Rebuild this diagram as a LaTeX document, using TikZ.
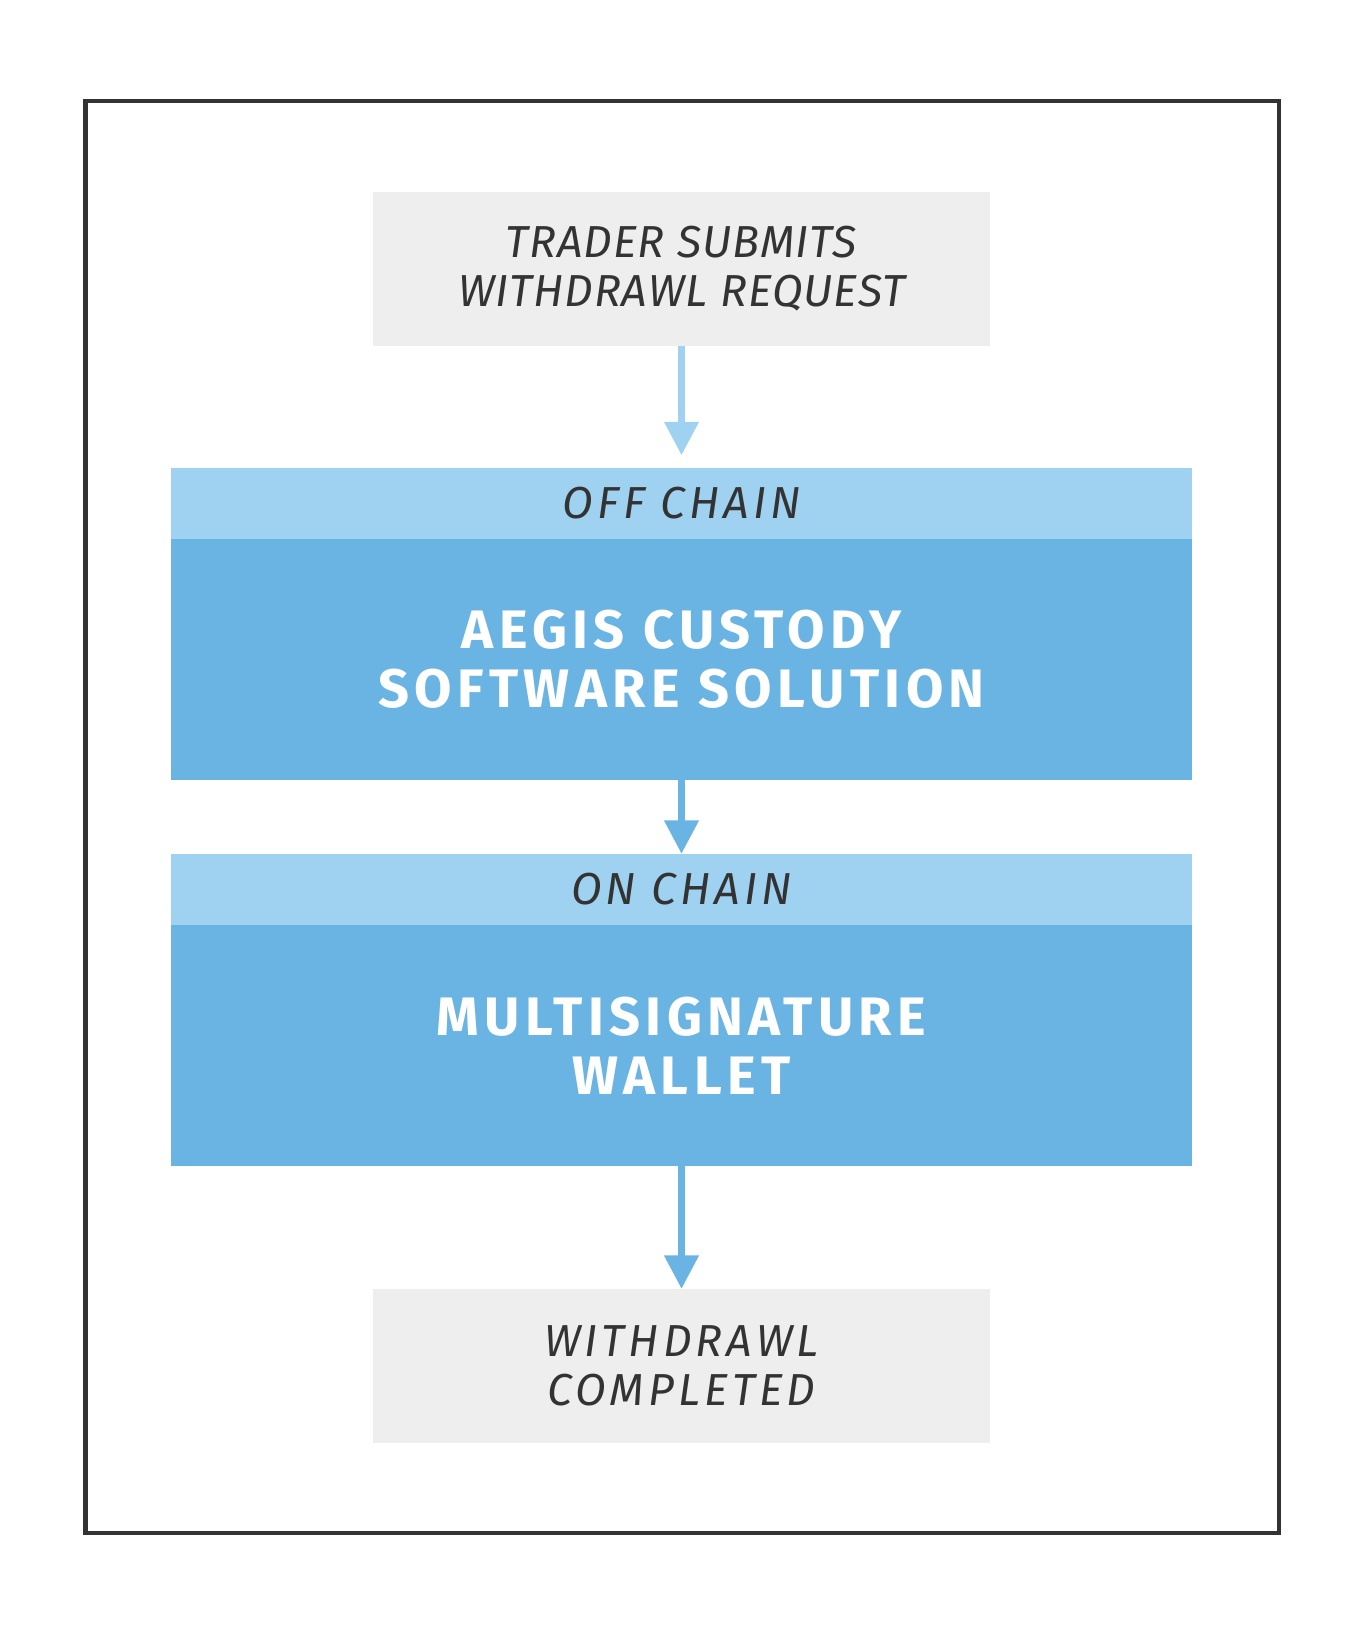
\documentclass[tikz,border=0pt]{standalone}
\usepackage{fontspec}
\usetikzlibrary{positioning,arrows.meta}

\newfontfamily\stepfont[LetterSpace=2]{Fira Sans}
\newfontfamily\spacedfont[LetterSpace=9]{Fira Sans}
\newfontfamily\titlefont[LetterSpace=10]{Fira Sans}

\definecolor{boxgray}{HTML}{EEEEEE}
\definecolor{chainlight}{HTML}{9FD1F1}
\definecolor{chainblue}{HTML}{6AB4E4}
\definecolor{ink}{HTML}{333333}

\begin{document}
\begin{tikzpicture}[x=1pt, y=-1pt, >={Triangle[width=32pt,length=32pt]},
	stepbox/.style={fill=boxgray, minimum width=592pt, minimum height=148pt, inner sep=0pt,
		text=ink, align=center, font=\stepfont\itshape\fontsize{43}{47}\selectfont},
	endbox/.style={stepbox, font=\spacedfont\itshape\fontsize{43}{47}\selectfont},
	chainhead/.style={fill=chainlight, minimum width=979pt, minimum height=68pt, inner sep=0pt,
		text=ink, font=\spacedfont\itshape\fontsize{43}{47}\selectfont},
	chainbody/.style={fill=chainblue, minimum width=979pt, minimum height=231pt, inner sep=0pt,
		text=white, align=center, font=\titlefont\bfseries\fontsize{52}{57}\selectfont},
	flow/.style={->, line width=6pt, draw=chainblue}]

	\useasboundingbox (0,0) rectangle (1310,1570);
	\draw[ink, line width=4pt] (82,97) rectangle (1227,1471);

	% === NODES === (((
	\node[stepbox] (request) at (654,258) {TRADER SUBMITS\\WITHDRAWL REQUEST};

	\node[chainhead] (offhead) at (654,483) {OFF CHAIN};
	\node[chainbody, below=0pt of offhead] (aegis) {AEGIS CUSTODY\\SOFTWARE SOLUTION};

	\node[chainhead] (onhead) at (654,853.5) {ON CHAIN};
	\node[chainbody, below=0pt of onhead] (wallet) {MULTISIGNATURE\\WALLET};

	\node[endbox] (done) at (654,1311) {WITHDRAWL\\COMPLETED};
	% )))

	% === LINES === (((
	\draw[flow, draw=chainlight, fill=chainlight, shorten >=12pt] (request) -- (offhead);
	\draw[flow, fill=chainblue] (aegis) -- (onhead);
	\draw[flow, fill=chainblue] (wallet) -- (done);
	% )))

\end{tikzpicture}
\end{document}
